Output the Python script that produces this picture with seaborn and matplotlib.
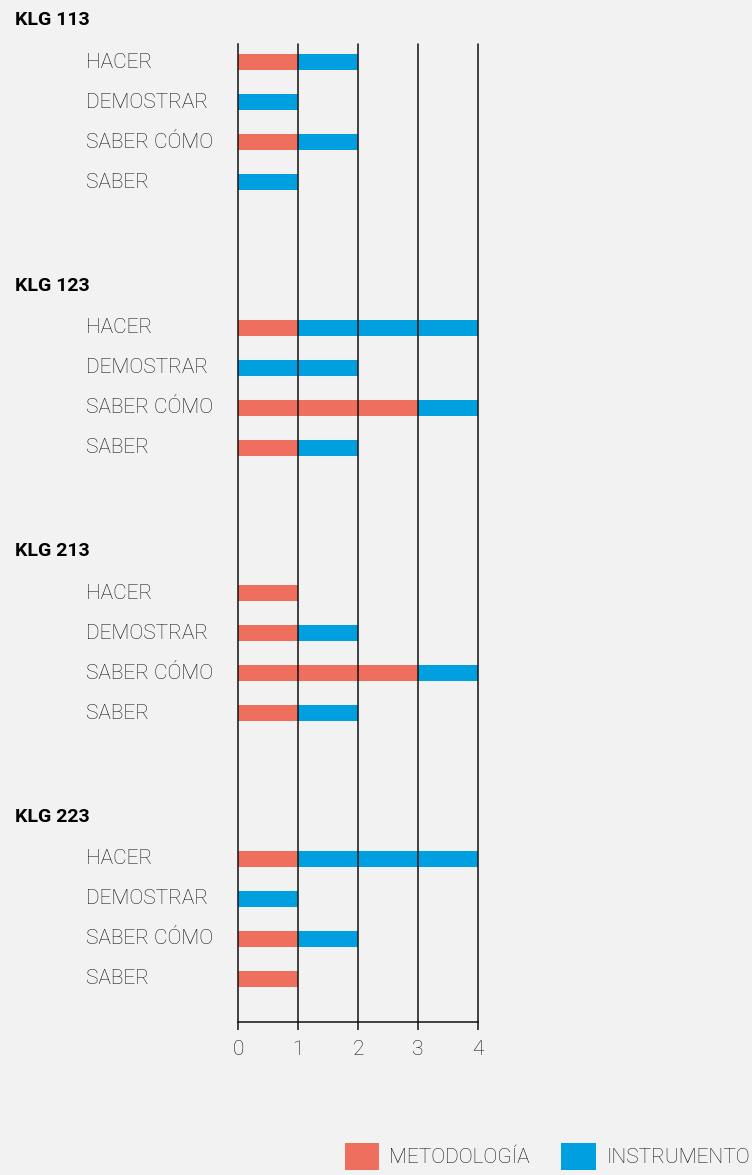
import matplotlib.pyplot as plt
from matplotlib.patches import Patch
from matplotlib.transforms import blended_transform_factory
import seaborn as sns
import pandas as pd

groups = ["KLG 113", "KLG 123", "KLG 213", "KLG 223"]
levels = ["HACER", "DEMOSTRAR", "SABER CÓMO", "SABER"]
# one list per group, in the order of levels
metodologia = [[1, 0, 1, 0], [1, 0, 3, 1], [1, 1, 3, 1], [1, 0, 1, 1]]
instrumento = [[1, 1, 1, 1], [3, 2, 1, 1], [0, 1, 1, 1], [3, 1, 1, 0]]
xticks = [0, 1, 2, 3, 4]

SALMON = "#ef6f5f"
BLUE = "#009fdf"
BG = "#f2f2f2"
TXT = "#151515"
GROUP_STEP = 6.64   # rows between group starts

rows = []
for g, grp in enumerate(groups):
    for r, lvl in enumerate(levels):
        rows.append({"group": grp, "level": lvl, "pos": g * GROUP_STEP + r,
                     "met": metodologia[g][r], "ins": instrumento[g][r],
                     "total": metodologia[g][r] + instrumento[g][r]})
df = pd.DataFrame(rows)

sns.set_theme(style="white")
plt.rcParams["font.family"] = ["Roboto", "DejaVu Sans"]

fig = plt.figure(figsize=(7.52, 11.75), dpi=100, facecolor=BG)
ax = fig.add_axes([238 / 752, 1 - 1022 / 1175, 240 / 752, 978 / 1175])
ax.set_facecolor(BG)

# stacked: total in blue underneath, metodologia on top
sns.barplot(data=df, x="total", y="pos", orient="h", native_scale=True, color=BLUE,
            saturation=1, width=0.4, errorbar=None, linewidth=0, ax=ax)
sns.barplot(data=df, x="met", y="pos", orient="h", native_scale=True, color=SALMON,
            saturation=1, width=0.4, errorbar=None, linewidth=0, ax=ax)

ax.set_xlim(0, 4)
ax.set_ylim(3 * GROUP_STEP + 3 + 1.075, -0.45)
ax.set_xticks(xticks)
ax.set_yticks([])
ax.set_xlabel("")
ax.set_ylabel("")
for v in xticks[1:]:
    ax.axvline(v, color="#111111", lw=1.1, zorder=5, clip_on=False)
for s in ["top", "right"]:
    ax.spines[s].set_visible(False)
for s in ["left", "bottom"]:
    ax.spines[s].set_color("#111111")
    ax.spines[s].set_linewidth(1.1)
    ax.spines[s].set_zorder(6)
ax.tick_params(axis="x", direction="out", length=6, width=1.1, color="#111111",
               labelsize=15, labelcolor=TXT, pad=7, bottom=True)
for lab in ax.get_xticklabels():
    lab.set_fontweight("light")

tr = blended_transform_factory(fig.transFigure, ax.transData)
for g, grp in enumerate(groups):
    base = g * GROUP_STEP
    ax.text(15 / 752, base - 1.05, grp, transform=tr, ha="left", va="center",
            fontsize=14, fontweight="bold", color="black")
    for r, lvl in enumerate(levels):
        ax.text(86 / 752, base + r, lvl, transform=tr, ha="left", va="center",
                fontsize=15, fontweight="light", color=TXT)

handles = [Patch(color=SALMON, label="METODOLOGÍA", linewidth=0),
           Patch(color=BLUE, label="INSTRUMENTO", linewidth=0)]
leg = fig.legend(handles=handles, loc="lower right", bbox_to_anchor=(0.997, 0.004), ncol=2,
                 frameon=False, handlelength=1.65, handleheight=1.65, handletextpad=0.5,
                 columnspacing=1.5, fontsize=15, borderpad=0, borderaxespad=0)
for t in leg.get_texts():
    t.set_fontweight("light")
    t.set_color(TXT)

fig.savefig("out.png", dpi=100, facecolor=BG)
